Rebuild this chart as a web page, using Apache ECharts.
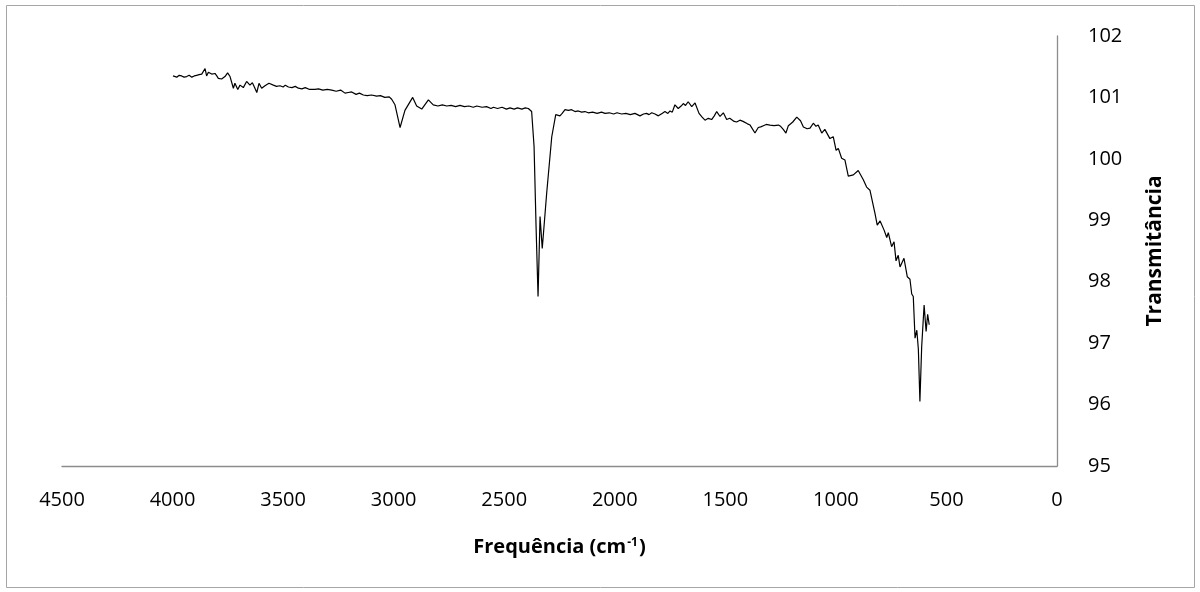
<!DOCTYPE html>
<html>
<head>
<meta charset="utf-8">
<script src="https://cdn.jsdelivr.net/npm/echarts@6/dist/echarts.min.js"></script>
<style>
  html, body { margin: 0; padding: 0; background: #fff; }
  #chart { width: 1200px; height: 592px; }
</style>
</head>
<body>
<div id="chart"></div>
<script>
// FTIR spectrum: wavenumber (cm-1) and transmittance (%)
const wavenumber = [
  3998, 3990, 3981, 3970, 3959, 3948, 3936, 3925, 3913, 3902,
  3891, 3880, 3868, 3860, 3853, 3846, 3838, 3823, 3808, 3800,
  3793, 3778, 3763, 3751, 3740, 3725, 3718, 3705, 3695, 3680,
  3665, 3650, 3639, 3630, 3619, 3609, 3597, 3582, 3564, 3544,
  3530, 3514, 3500, 3490, 3476, 3460, 3445, 3431, 3415, 3400,
  3380, 3356, 3340, 3320, 3300, 3280, 3260, 3240, 3220, 3205,
  3190, 3170, 3155, 3137, 3120, 3100, 3077, 3060, 3040, 3020,
  3009, 2994, 2971, 2949, 2914, 2896, 2873, 2843, 2821, 2800,
  2780, 2760, 2740, 2720, 2700, 2680, 2660, 2640, 2624, 2600,
  2580, 2560, 2549, 2530, 2510, 2490, 2474, 2455, 2440, 2420,
  2405, 2391, 2376, 2365, 2356, 2347, 2338, 2328, 2308, 2285,
  2267, 2248, 2238, 2225, 2210, 2195, 2180, 2165, 2150, 2135,
  2120, 2100, 2080, 2060, 2044, 2025, 2005, 1990, 1969, 1950,
  1930, 1909, 1886, 1870, 1856, 1845, 1833, 1818, 1803, 1786,
  1773, 1760, 1750, 1740, 1728, 1713, 1700, 1690, 1680, 1668,
  1652, 1637, 1619, 1605, 1592, 1577, 1562, 1550, 1539, 1524,
  1509, 1494, 1480, 1471, 1460, 1449, 1434, 1420, 1411, 1400,
  1388, 1366, 1351, 1340, 1328, 1315, 1298, 1280, 1260, 1250,
  1238, 1226, 1215, 1195, 1177, 1160, 1147, 1130, 1117, 1102,
  1090, 1080, 1064, 1050, 1042, 1027, 1012, 999, 989, 974,
  959, 944, 921, 899, 876, 861, 846, 823, 813, 800,
  782, 770, 763, 748, 737, 728, 718, 710, 692, 677,
  665, 657, 650, 642, 634, 627, 620, 612, 601, 592,
  585, 578
];
const transmittance = [
  101.35, 101.36, 101.33, 101.36, 101.35, 101.33, 101.34, 101.36, 101.33, 101.35,
  101.36, 101.37, 101.38, 101.40, 101.47, 101.35, 101.41, 101.38, 101.39, 101.35,
  101.31, 101.30, 101.34, 101.40, 101.34, 101.15, 101.23, 101.13, 101.20, 101.16,
  101.26, 101.20, 101.24, 101.17, 101.08, 101.23, 101.15, 101.19, 101.23, 101.20,
  101.18, 101.19, 101.17, 101.20, 101.17, 101.16, 101.18, 101.15, 101.14, 101.16,
  101.13, 101.13, 101.14, 101.12, 101.13, 101.12, 101.10, 101.12, 101.07, 101.08,
  101.09, 101.05, 101.07, 101.04, 101.03, 101.04, 101.02, 101.03, 101.00, 101.01,
  100.97, 100.88, 100.51, 100.79, 101.00, 100.86, 100.81, 100.96, 100.88, 100.86,
  100.88, 100.86, 100.87, 100.85, 100.87, 100.85, 100.86, 100.84, 100.86, 100.84,
  100.85, 100.82, 100.84, 100.82, 100.84, 100.81, 100.83, 100.81, 100.83, 100.81,
  100.83, 100.82, 100.77, 100.20, 98.90, 97.76, 99.06, 98.54, 99.44, 100.36,
  100.72, 100.70, 100.74, 100.80, 100.79, 100.80, 100.77, 100.78, 100.76, 100.77,
  100.75, 100.76, 100.74, 100.76, 100.74, 100.75, 100.73, 100.75, 100.73, 100.74,
  100.72, 100.74, 100.70, 100.73, 100.74, 100.72, 100.75, 100.73, 100.70, 100.74,
  100.77, 100.74, 100.78, 100.76, 100.88, 100.82, 100.86, 100.90, 100.87, 100.93,
  100.85, 100.91, 100.74, 100.68, 100.63, 100.66, 100.64, 100.70, 100.77, 100.69,
  100.75, 100.64, 100.66, 100.64, 100.61, 100.60, 100.63, 100.61, 100.59, 100.57,
  100.55, 100.42, 100.51, 100.52, 100.54, 100.56, 100.55, 100.54, 100.55, 100.53,
  100.48, 100.42, 100.54, 100.60, 100.68, 100.62, 100.52, 100.49, 100.50, 100.58,
  100.53, 100.55, 100.42, 100.48, 100.46, 100.33, 100.36, 100.14, 100.17, 100.01,
  99.98, 99.72, 99.74, 99.81, 99.66, 99.54, 99.49, 99.11, 98.92, 98.99,
  98.84, 98.72, 98.80, 98.57, 98.65, 98.34, 98.43, 98.24, 98.38, 98.08,
  98.04, 97.80, 97.76, 97.08, 97.21, 96.90, 96.05, 96.94, 97.62, 97.19,
  97.47, 97.30
];

const FONT = '"Open Sans", "Liberation Sans", sans-serif';
const spectrum = wavenumber.map((w, i) => [w, transmittance[i]]);

const chart = echarts.init(document.getElementById('chart'), null, { renderer: 'canvas' });
chart.setOption({
  animation: false,
  backgroundColor: '#ffffff',
  textStyle: { fontFamily: FONT },
  graphic: [{
    type: 'rect',
    shape: { x: 6.5, y: 5.5, width: 1188, height: 582 },
    style: { fill: 'none', stroke: '#a6a6a6', lineWidth: 1 },
    silent: true,
    z: -1
  }],
  grid: { left: 62, right: 143, top: 36, bottom: 126 },
  xAxis: {
    type: 'value',
    inverse: true,
    min: 0,
    max: 4500,
    interval: 500,
    splitLine: { show: false },
    axisTick: { show: false },
    axisLine: { show: true, onZero: false, lineStyle: { color: '#8c8c8c', width: 1.3 } },
    axisLabel: { color: '#000', fontSize: 20, margin: 24, fontFamily: FONT, formatter: v => String(v) },
    name: '{a|Frequência (cm}{s|-1}{a|)}',
    nameLocation: 'middle',
    nameGap: 71,
    nameTextStyle: {
      rich: {
        a: { fontSize: 20, fontWeight: 'bold', color: '#000', fontFamily: FONT },
        s: { fontSize: 12, fontWeight: 'bold', color: '#000', fontFamily: FONT, verticalAlign: 'top', padding: [0, 1, 0, 1] }
      }
    }
  },
  yAxis: {
    type: 'value',
    position: 'right',
    min: 95,
    max: 102,
    interval: 1,
    splitLine: { show: false },
    axisTick: { show: false },
    axisLine: { show: true, lineStyle: { color: '#8c8c8c', width: 1.3 } },
    axisLabel: { color: '#000', fontSize: 20, margin: 31, fontFamily: FONT, formatter: v => String(v) },
    name: 'Transmitância',
    nameLocation: 'middle',
    nameGap: 88,
    nameRotate: 90,
    nameTextStyle: { fontSize: 21, fontWeight: 'bold', color: '#000', fontFamily: FONT }
  },
  series: [{
    type: 'line',
    data: spectrum,
    showSymbol: false,
    smooth: false,
    lineStyle: { color: '#000', width: 1.2 },
    z: 3
  }]
});
</script>
</body>
</html>
